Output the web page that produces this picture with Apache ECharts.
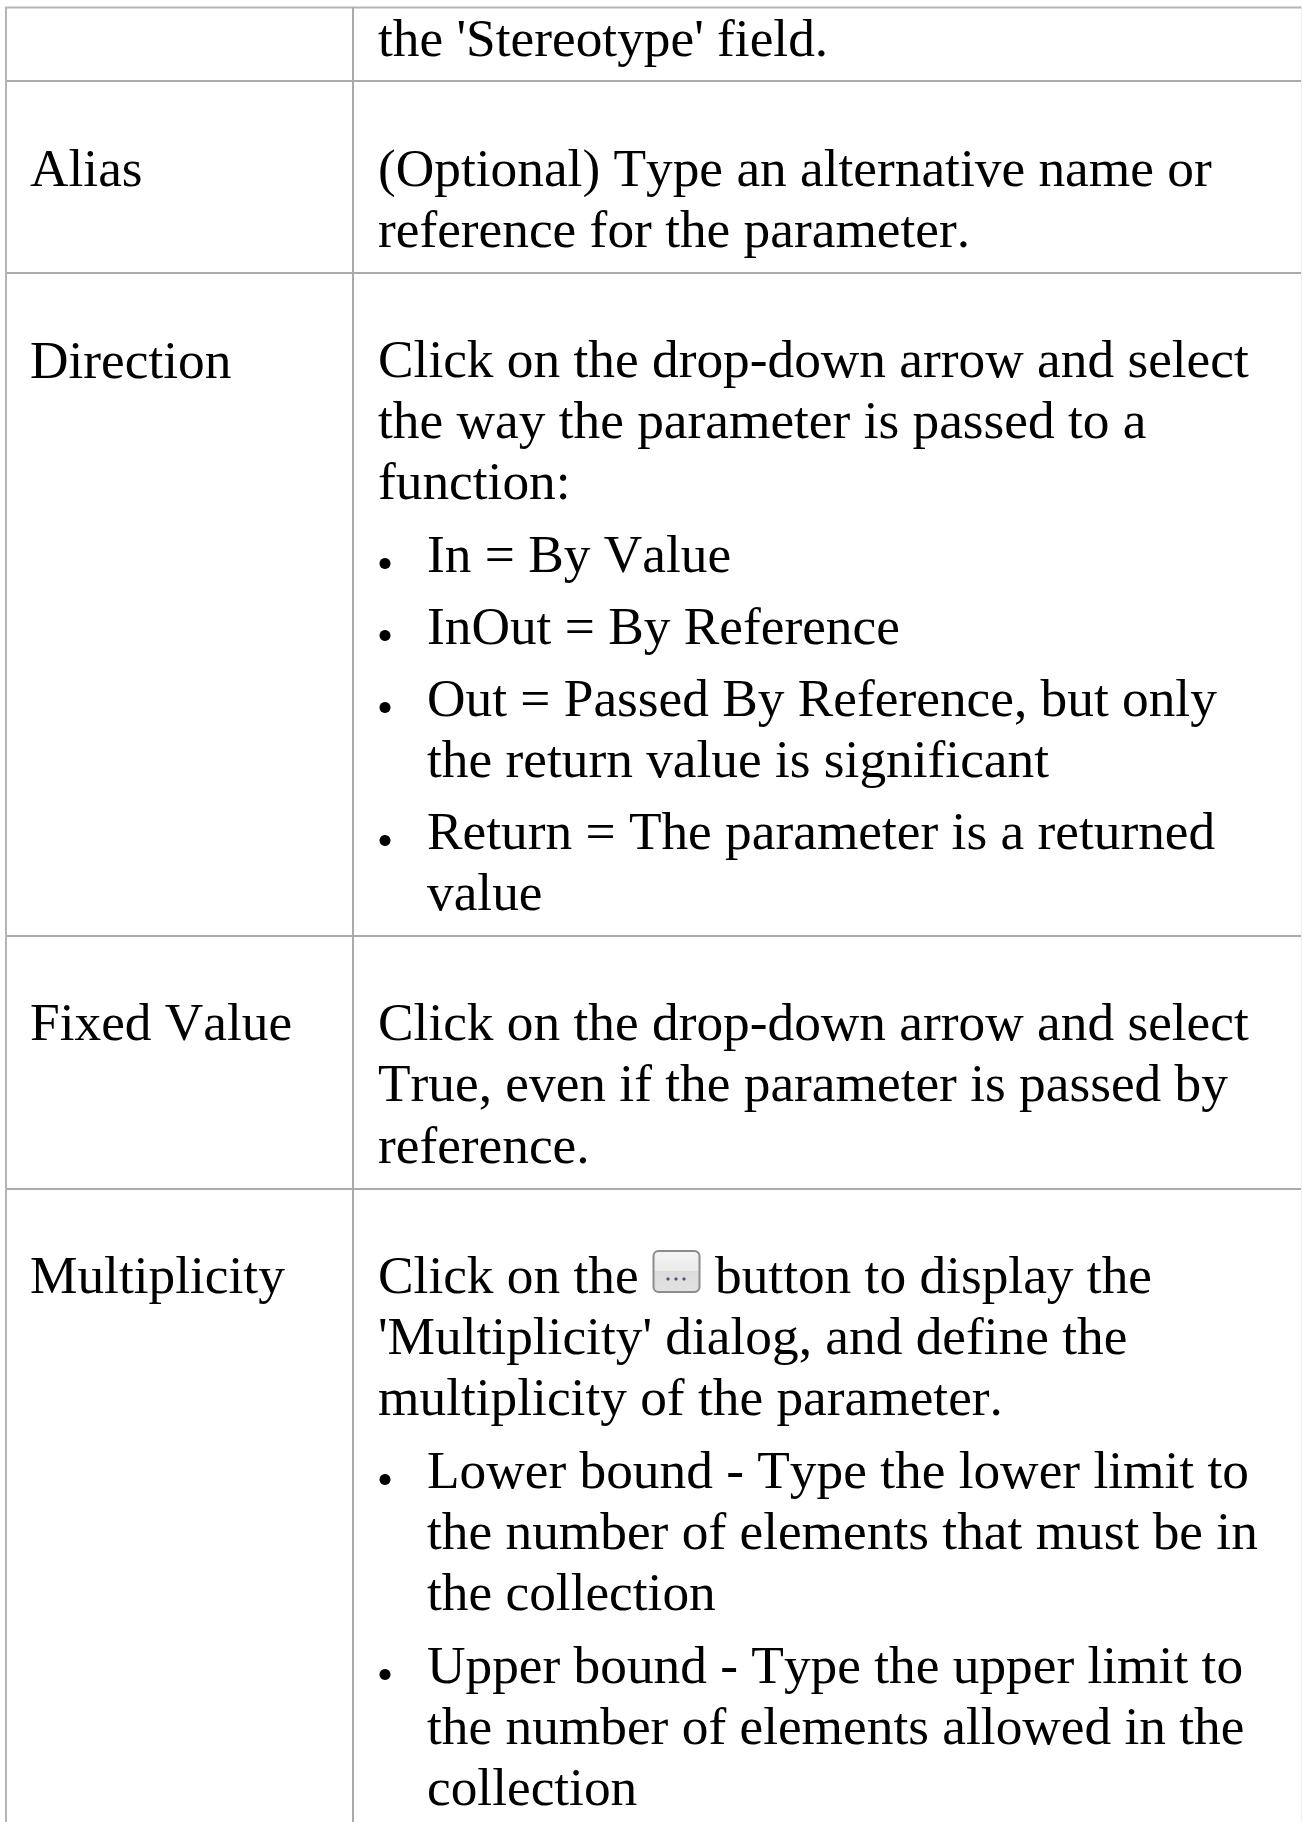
<!DOCTYPE html>
<html>
<head>
<meta charset="utf-8">
<title>Parameter properties</title>
<script src="https://cdn.jsdelivr.net/npm/echarts@6/dist/echarts.min.js"></script>
<style>
  html, body { margin: 0; padding: 0; background: #fff; }
  #chart { width: 1302px; height: 1822px; }
  #chart text { font-kerning: none !important; text-rendering: optimizeSpeed !important; }
</style>
</head>
<body>
<div id="chart"></div>
<script>
// left column
var rowLabels = ['Alias', 'Direction', 'Fixed Value', 'Multiplicity'];
// right column, one entry per printed line
var textLines = [
  "the 'Stereotype' field.",
  '(Optional) Type an alternative name or',
  'reference for the parameter.',
  'Click on the drop-down arrow and select',
  'the way the parameter is passed to a',
  'function:',
  'In = By Value',
  'InOut = By Reference',
  'Out = Passed By Reference, but only',
  'the return value is significant',
  'Return = The parameter is a returned',
  'value',
  'Click on the drop-down arrow and select',
  'True, even if the parameter is passed by',
  'reference.',
  'Click on the',
  "'Multiplicity' dialog, and define the",
  'multiplicity of the parameter.',
  'Lower bound - Type the lower limit to',
  'the number of elements that must be in',
  'the collection',
  'Upper bound - Type the upper limit to',
  'the number of elements allowed in the',
  'collection'
];
var inlineAfterButton = 'button to display the';

// layout, kept apart from the text
var labelBaselines = [186, 378, 1040, 1293];
var lineBaselines = [56, 186, 247, 377, 438, 499, 572, 644, 716, 777, 849, 910, 1040, 1101, 1163, 1293, 1354, 1415, 1488, 1549, 1610, 1683, 1744, 1805];
var bulletLines = [6, 7, 8, 10, 18, 21];
var indentedLines = [9, 11, 19, 20, 22, 23];
var rowRules = [7.5, 81, 273, 936, 1189];

var FONT = '53.33px "Liberation Serif"';
var LINE_COLOR = '#aaaaaa';
var MID = 18; // em-box middle above the baseline

var els = [];

function addText(str, x, baseline) {
  els.push({
    type: 'text', silent: true,
    style: { text: str, x: x, y: baseline - MID, font: FONT, fill: '#000', verticalAlign: 'middle', align: 'left' }
  });
}

rowRules.forEach(function (y, i) {
  els.push({ type: 'rect', silent: true,
    shape: { x: 5, y: y - 1, width: 1297, height: 2 },
    style: { fill: i === 0 ? '#b4b4b4' : LINE_COLOR } });
});
els.push({ type: 'rect', silent: true, shape: { x: 5, y: 7, width: 2, height: 1815 }, style: { fill: '#b4b4b4' } });
els.push({ type: 'rect', silent: true, shape: { x: 352, y: 7, width: 2, height: 1815 }, style: { fill: LINE_COLOR } });
els.push({ type: 'rect', silent: true, shape: { x: 1301, y: 7, width: 1, height: 1815 }, style: { fill: '#eeeeee' } });

rowLabels.forEach(function (label, i) {
  addText(label, 30, labelBaselines[i]);
});

textLines.forEach(function (line, i) {
  var isBullet = bulletLines.indexOf(i) >= 0;
  var isIndented = isBullet || indentedLines.indexOf(i) >= 0;
  addText(line, isIndented ? 427 : 378, lineBaselines[i]);
  if (isBullet) {
    els.push({ type: 'circle', silent: true,
      shape: { cx: 385, cy: lineBaselines[i] - 8.5, r: 5.5 },
      style: { fill: '#000' } });
  }
});
addText(inlineAfterButton, 715, lineBaselines[15]);

// the small [...] button inside the Multiplicity row
els.push({ type: 'rect', silent: true,
  shape: { x: 653.5, y: 1251, width: 46, height: 41, r: 5 },
  style: {
    fill: new echarts.graphic.LinearGradient(0, 0, 0, 1, [
      { offset: 0, color: '#f4f4f4' },
      { offset: 0.48, color: '#ebebeb' },
      { offset: 0.5, color: '#dcdcdc' },
      { offset: 1, color: '#e2e2e2' }
    ]),
    stroke: '#8c8c8c', lineWidth: 2
  } });
[668, 676, 684].forEach(function (x) {
  els.push({ type: 'circle', silent: true, shape: { cx: x, cy: 1279, r: 1.6 }, style: { fill: '#5a4a78' } });
});

var chart = echarts.init(document.getElementById('chart'), null, { renderer: 'svg' });
chart.setOption({
  animation: false,
  backgroundColor: '#fff',
  graphic: { elements: els }
});
</script>
</body>
</html>
